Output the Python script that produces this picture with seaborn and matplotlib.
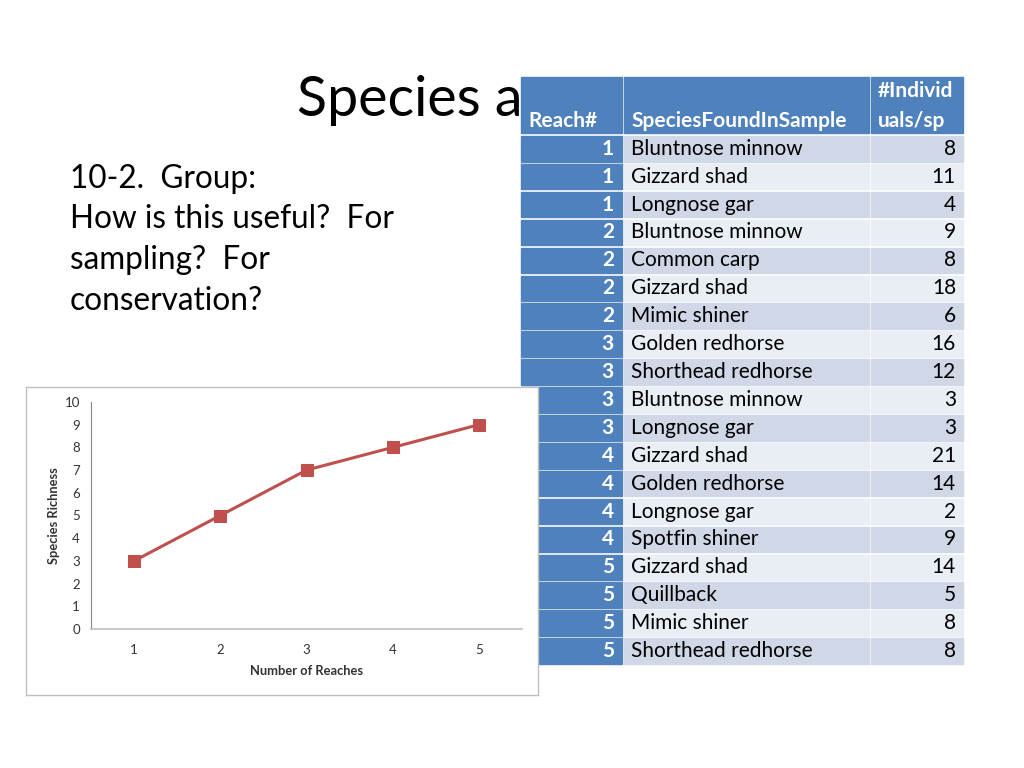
import matplotlib
matplotlib.use('Agg')
import matplotlib.pyplot as plt
from matplotlib.patches import Rectangle
import seaborn as sns

# --- data ---
reaches = [1, 2, 3, 4, 5]
richness = [3, 5, 7, 8, 9]

reach_ids = [1, 1, 1, 2, 2, 2, 2, 3, 3, 3, 3, 4, 4, 4, 4, 5, 5, 5, 5]
species = ["Bluntnose minnow", "Gizzard shad", "Longnose gar",
           "Bluntnose minnow", "Common carp", "Gizzard shad", "Mimic shiner",
           "Golden redhorse", "Shorthead redhorse", "Bluntnose minnow", "Longnose gar",
           "Gizzard shad", "Golden redhorse", "Longnose gar", "Spotfin shiner",
           "Gizzard shad", "Quillback", "Mimic shiner", "Shorthead redhorse"]
counts = [8, 11, 4, 9, 8, 18, 6, 16, 12, 3, 3, 21, 14, 2, 9, 14, 5, 8, 8]

title = "Species a"   # rest of the title is hidden behind the table
body_lines = ["10-2.  Group:", "How is this useful?  For", "sampling?  For", "conservation?"]

sns.set_style('white')
plt.rcParams['font.family'] = ['Lato', 'DejaVu Sans']

W, H = 1024, 768
BLUE = '#4F81BD'
ROW_DARK = '#D0D8E8'
ROW_LIGHT = '#E9EDF4'
RED = '#C0504D'


def px_box(l, t, r, b):
    return [l / W, 1 - b / H, (r - l) / W, (b - t) / H]


fig = plt.figure(figsize=(W / 100, H / 100), dpi=100)

# slide layer in pixel coordinates
ax_s = fig.add_axes([0, 0, 1, 1], zorder=1)
ax_s.set_xlim(0, W)
ax_s.set_ylim(H, 0)
ax_s.axis('off')

ax_s.text(297, 116, title, fontsize=40, va='baseline', ha='left', color='black', zorder=1)
for i, line in enumerate(body_lines):
    ax_s.text(70, 188 + i * 40.5, line, fontsize=22.7, va='baseline', ha='left', color='black')

# table
cols = [(521, 622), (624, 869), (871, 963)]
head_top, head_bot = 77, 133
row_top0, row_pitch, row_h = 136, 27.9, 25.6
for (l, r) in cols:
    ax_s.add_patch(Rectangle((l, head_top), r - l, head_bot - head_top, color=BLUE, zorder=2))
hdr = dict(fontsize=15, fontweight='bold', color='white', va='center', zorder=3)
ax_s.text(528, 121, "Reach#", **hdr)
ax_s.text(631, 121, "SpeciesFoundInSample", **hdr)
ax_s.text(878, 91, "#Individ", **hdr)
ax_s.text(878, 121, "uals/sp", **hdr)

for i, (rid, sp, n) in enumerate(zip(reach_ids, species, counts)):
    top = row_top0 + i * row_pitch
    fill = ROW_DARK if i % 2 == 0 else ROW_LIGHT
    ax_s.add_patch(Rectangle((cols[0][0], top), cols[0][1] - cols[0][0], row_h, color=BLUE, zorder=2))
    ax_s.add_patch(Rectangle((cols[1][0], top), cols[1][1] - cols[1][0], row_h, color=fill, zorder=2))
    ax_s.add_patch(Rectangle((cols[2][0], top), cols[2][1] - cols[2][0], row_h, color=fill, zorder=2))
    cy = top + row_h / 2
    ax_s.text(614, cy, str(rid), fontsize=15, fontweight='bold', color='white', ha='right', va='center', zorder=3)
    ax_s.text(631, cy, sp, fontsize=15, color='black', ha='left', va='center', zorder=3)
    ax_s.text(956, cy, str(n), fontsize=15, color='black', ha='right', va='center', zorder=3)

# chart frame sits on top of the table
ax_box = fig.add_axes(px_box(26, 387, 538, 695), zorder=5)
ax_box.set_facecolor('white')
ax_box.set_xticks([])
ax_box.set_yticks([])
for sp_ in ax_box.spines.values():
    sp_.set_color('#BFBFBF')
    sp_.set_linewidth(1)

ax = fig.add_axes(px_box(91, 402, 522, 629), zorder=6)
ax.set_facecolor('none')
sns.lineplot(x=reaches, y=richness, marker='s', markersize=8.5, color=RED,
             markeredgecolor=RED, linewidth=2.2, ax=ax)
ax.set_xlim(0.5, 5.5)
ax.set_ylim(0, 10)
ax.set_xticks(reaches)
ax.set_yticks(range(0, 11))
ax.tick_params(length=0, labelsize=9.5, colors='#333333')
ax.tick_params(axis='y', pad=8)
ax.tick_params(axis='x', pad=11)
ax.set_xlabel('Number of Reaches', fontsize=9.3, fontweight='bold', labelpad=6, color='#333333')
ax.set_ylabel('Species Richness', fontsize=9.3, fontweight='bold', labelpad=3, color='#333333')
ax.spines['top'].set_visible(False)
ax.spines['right'].set_visible(False)
ax.spines['left'].set_color('#868686')
ax.spines['bottom'].set_color('#BFBFBF')
ax.spines['bottom'].set_linewidth(1.2)

fig.savefig('out.png', dpi=100)
plt.close(fig)
